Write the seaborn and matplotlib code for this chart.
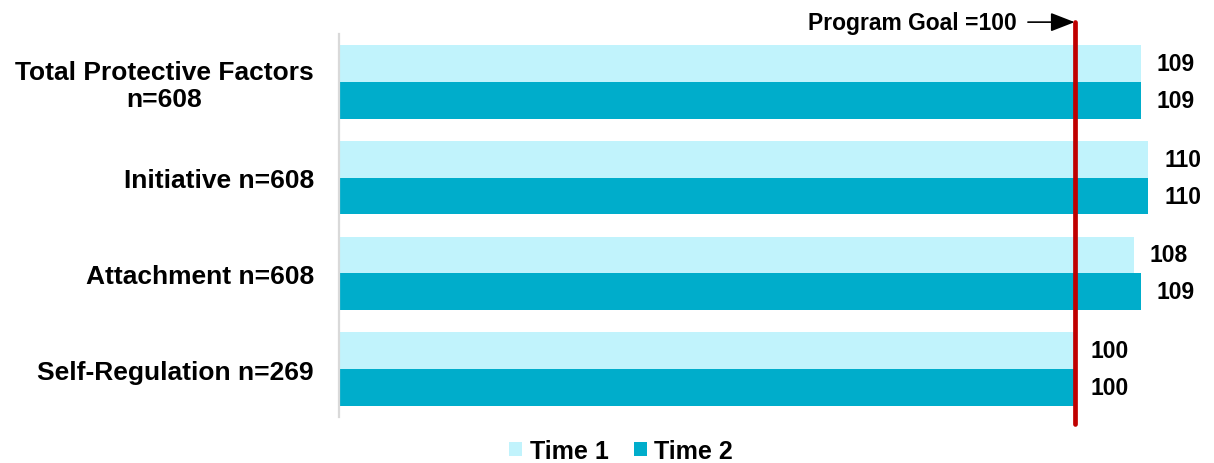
import matplotlib
matplotlib.use("Agg")
import matplotlib.pyplot as plt
import seaborn as sns
import pandas as pd

# Scale names and sample sizes
categories = ["Total Protective Factors\nn=608", "Initiative n=608",
              "Attachment n=608", "Self-Regulation n=269"]
time1 = [109, 110, 108, 100]
time2 = [109, 110, 109, 100]
series_names = ["Time 1", "Time 2"]
goal = 100
goal_label = "Program Goal =100"

colors = ["#C1F3FC", "#00ADCB"]

sns.set_style("white")
plt.rcParams["font.family"] = ["Liberation Sans", "DejaVu Sans"]
plt.rcParams["font.weight"] = "bold"
plt.rcParams["text.color"] = "black"
plt.rcParams["ytick.color"] = "black"

df = pd.DataFrame({
    "scale": categories * 2,
    "score": time1 + time2,
    "time": [series_names[0]] * len(categories) + [series_names[1]] * len(categories),
})

fig = plt.figure(figsize=(12.14, 4.64), dpi=100)
ax = fig.add_axes([339 / 1214, 46 / 464, (1185 - 339) / 1214, 383 / 464])

sns.barplot(data=df, x="score", y="scale", hue="time", order=categories,
            hue_order=series_names, palette=colors, orient="h", width=0.77,
            linewidth=0, saturation=1, legend=False, ax=ax)

ax.set_xlim(0, 115)
ax.set_ylim(3.5, -0.5)
ax.set_xlabel("")
ax.set_ylabel("")
ax.set_xticks([])
for side in ["top", "right", "bottom"]:
    ax.spines[side].set_visible(False)
ax.spines["left"].set_color("#D9D9D9")
ax.spines["left"].set_linewidth(1.6)

ax.tick_params(axis="y", length=0, pad=18, labelsize=19, labelcolor="black")
for lab in ax.get_yticklabels():
    lab.set_fontweight("bold")
    lab.set_multialignment("center")
    lab.set_linespacing(1.15)

for cont in ax.containers:
    ax.bar_label(cont, fmt="%d", padding=11.5, fontsize=16.5, fontweight="bold",
                 color="black", clip_on=False)

# Goal reference line, extended slightly beyond the plotting area
ax.axvline(goal, ymin=-0.018, ymax=1.031, color="#C00000", linewidth=3.4,
           clip_on=False, zorder=5)

ax.annotate(goal_label, xy=(goal, 1.031), xycoords=("data", "axes fraction"),
            xytext=(-42, 0), textcoords="offset points", ha="right", va="center",
            fontsize=16.5, fontweight="bold", color="black",
            arrowprops=dict(arrowstyle="-|>,head_length=0.9,head_width=0.35",
                            color="black", lw=1.2, shrinkA=6, shrinkB=0),
            annotation_clip=False)

handles = [plt.Rectangle((0, 0), 1, 1, facecolor=c, edgecolor="none") for c in colors]
fig.legend(handles, series_names, loc="center", bbox_to_anchor=(621 / 1214, 12 / 464),
           ncol=2, frameon=False, prop={"size": 18, "weight": "bold"},
           labelcolor="black",
           handlelength=0.52, handleheight=0.52, handletextpad=0.3,
           columnspacing=1.0, borderpad=0)

fig.savefig("out.png", dpi=100)
